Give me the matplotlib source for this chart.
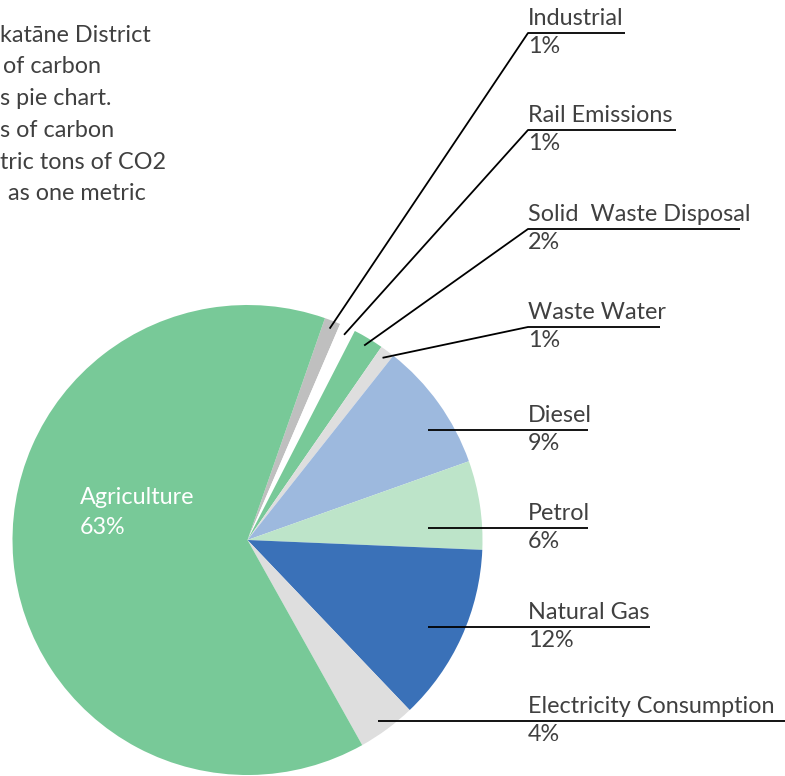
import matplotlib
matplotlib.use('Agg')
import numpy as np
import matplotlib.pyplot as plt

plt.rcParams['font.family'] = ['Lato', 'DejaVu Sans']

# slice data, clockwise from the top-right
sources = ['Industrial', 'Rail Emissions', 'Solid  Waste Disposal', 'Waste Water',
           'Diesel', 'Petrol', 'Natural Gas', 'Electricity Consumption', 'Agriculture']
shares = [1.1, 1.1, 2.1, 1.0, 8.9, 6.1, 12.2, 4.0, 63.4]
colours = ['#bfbfbf', '#ffffff', '#78c998', '#dedede', '#9db9de',
           '#bde4c9', '#3a71b8', '#dedede', '#78c998']

# intro text, cropped at the left edge in the source image
intro_lines = ['katāne District', 'of carbon', 's pie chart.', 's of carbon',
               'tric tons of CO2', ' as one metric']

W, H = 785, 776
fig = plt.figure(figsize=(W / 100, H / 100), dpi=100)
ax = fig.add_axes([0, 0, 1, 1])

cx, cy, R = 247.5, H - 540, 235
start = 70.75
wedges, _ = ax.pie(shares, colors=colours, startangle=start, counterclock=False,
                   center=(cx, cy), radius=R, frame=True,
                   wedgeprops=dict(linewidth=0))
ax.set_xlim(0, W)
ax.set_ylim(0, H)
ax.set_aspect('equal')
ax.axis('off')

text_col = '#404040'
fs = 16.8

# label layout: underline height (px from top), leader start, underline end
label_y = [33, 130, 229, 327, 430, 528, 627, 721]
line_end = [625, 676, 740, 660, 588, 588, 650, 785]
horiz_start = [None, None, None, None, 428, 428, 428, 378]
tx = 528

for i in range(8):
    w = wedges[i]
    mid = np.deg2rad((w.theta1 + w.theta2) / 2)
    ly = H - label_y[i]
    if horiz_start[i] is None:
        ax_, ay_ = cx + 0.965 * R * np.cos(mid), cy + 0.965 * R * np.sin(mid)
        ax.plot([ax_, tx, line_end[i]], [ay_, ly, ly], color='black', lw=1.3,
                solid_capstyle='butt')
    else:
        ax.plot([horiz_start[i], line_end[i]], [ly, ly], color='black', lw=1.3,
                solid_capstyle='butt')
    ax.text(tx, ly + 4, sources[i], fontsize=fs, color=text_col, va='bottom', ha='left')
    ax.text(tx, ly - 3, f'{round(shares[i])}%', fontsize=fs, color=text_col,
            va='top', ha='left')

# Agriculture label inside the slice
ax.text(80, H - 497, sources[8], fontsize=fs, color='white', va='center', ha='left')
ax.text(80, H - 527, f'{round(shares[8])}%', fontsize=fs, color='white', va='center', ha='left')

intro_x = [0, 3, 0, 0, 0, 2]
for j, line in enumerate(intro_lines):
    ax.text(intro_x[j], H - (35 + j * 31.8), line, fontsize=fs, color=text_col,
            va='center', ha='left')

fig.savefig('out.png', dpi=100)
